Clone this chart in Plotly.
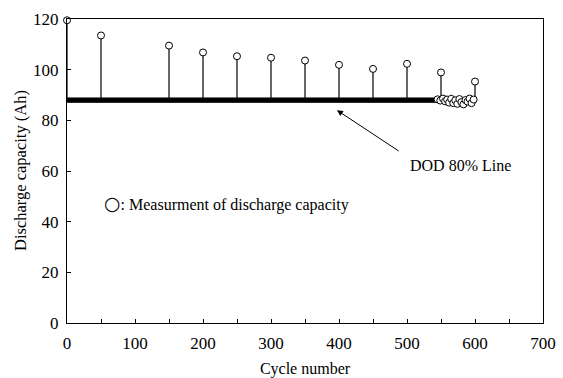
import plotly.graph_objects as go

# Measured capacity at check-up cycles (spikes)
spike_cycles = [0, 50, 150, 200, 250, 300, 350, 400, 450, 500, 550, 600]
spike_caps = [119.5, 113.5, 109.5, 106.8, 105.3, 104.7, 103.6, 101.9, 100.3, 102.3, 98.9, 95.3]

# DOD 80% cycling level (per-cycle discharge)
dod_level = 88.0
dod_cycles = list(range(1, 546, 2))
dod_caps = [dod_level] * len(dod_cycles)

# End-of-life scattered measurements
cluster_cycles = [545, 549, 553, 556, 559, 562, 565, 568, 571, 574, 577, 580, 583, 586, 589, 592, 595, 598]
cluster_caps = [88.3, 87.8, 88.6, 87.5, 88.2, 87.0, 88.5, 86.8, 87.9, 86.5, 88.4, 87.2, 86.3, 88.0, 87.4, 88.6, 86.8, 88.2]

FONT = "Liberation Serif, Times New Roman, serif"

fig = go.Figure()

# stems from DOD level to measured capacity
stem_x, stem_y = [], []
for c, v in zip(spike_cycles, spike_caps):
    stem_x += [c, c, None]
    stem_y += [dod_level, v, None]
fig.add_trace(go.Scatter(x=stem_x, y=stem_y, mode="lines",
                         line=dict(color="black", width=1.2), hoverinfo="skip"))

fig.add_trace(go.Scatter(x=dod_cycles, y=dod_caps, mode="lines+markers",
                         line=dict(color="black", width=2),
                         marker=dict(symbol="circle-open", size=4, color="black",
                                     line=dict(width=1.2))))

fig.add_trace(go.Scatter(x=cluster_cycles, y=cluster_caps, mode="markers",
                         marker=dict(symbol="circle", size=7, color="white",
                                     line=dict(color="black", width=1))))

fig.add_trace(go.Scatter(x=spike_cycles, y=spike_caps, mode="markers",
                         marker=dict(symbol="circle", size=7, color="white",
                                     line=dict(color="black", width=1)),
                         cliponaxis=False))

# arrow to DOD line
fig.add_annotation(x=397, y=84, ax=490, ay=67.5, xref="x", yref="y",
                   axref="x", ayref="y", text="", showarrow=True,
                   arrowhead=2, arrowsize=1.2, arrowwidth=1, arrowcolor="black")
fig.add_annotation(x=501, y=62, xref="x", yref="y", text="DOD 80% Line",
                   showarrow=False, xanchor="left", yanchor="middle",
                   font=dict(family=FONT, size=16, color="black"))
fig.add_annotation(x=52, y=47.5, xref="x", yref="y",
                   text="<span style='font-family:DejaVu Sans;font-size:19px'>○</span>: Measurment of discharge capacity",
                   showarrow=False, xanchor="left", yanchor="middle",
                   font=dict(family=FONT, size=16, color="black"))
# y-axis title
fig.add_annotation(x=-47 / 476, y=0.5, xref="paper", yref="paper",
                   text="Discharge capacity (Ah)", textangle=-90, showarrow=False,
                   xanchor="center", yanchor="middle",
                   font=dict(family=FONT, size=16.5, color="black"))

fig.update_layout(
    width=563, height=378,
    margin=dict(l=67, r=20, t=19, b=55, autoexpand=False),
    paper_bgcolor="white", plot_bgcolor="white",
    showlegend=False,
    font=dict(family=FONT, size=16, color="black"),
)
fig.update_xaxes(range=[0, 700], dtick=100, tick0=0, showgrid=False, zeroline=False,
                 showline=True, linecolor="black", linewidth=1, mirror=True,
                 ticks="inside", ticklen=4, tickcolor="black", automargin=False,
                 minor=dict(dtick=50, ticks="inside", ticklen=4, tickcolor="black"),
                 tickfont=dict(family=FONT, size=17), ticklabelstandoff=5,
                 title=dict(text="Cycle number", font=dict(family=FONT, size=16)))
fig.update_yaxes(range=[0, 120], dtick=20, tick0=0, showgrid=False, zeroline=False,
                 showline=True, linecolor="black", linewidth=1, mirror=True,
                 ticks="inside", ticklen=4, tickcolor="black", automargin=False,
                 tickfont=dict(family=FONT, size=17), ticklabelstandoff=4)

fig.write_html("out.html")
